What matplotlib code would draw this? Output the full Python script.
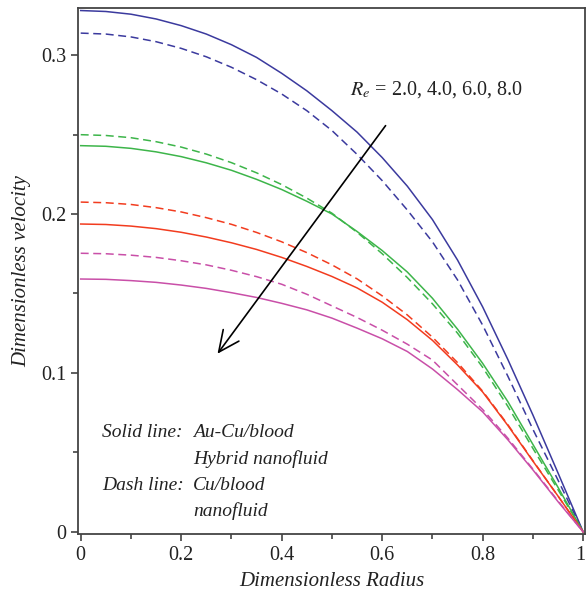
import numpy as np
import matplotlib
matplotlib.use('Agg')
import matplotlib.pyplot as plt
import matplotlib.transforms as mtransforms

radius = [0, 0.05, 0.1, 0.15, 0.2, 0.25, 0.3, 0.35, 0.4, 0.45, 0.5, 0.55, 0.6,
          0.65, 0.7, 0.75, 0.8, 0.85, 0.9, 0.95, 1.0]

# solid lines: Au-Cu/blood hybrid nanofluid
blue_solid = [0.328, 0.3274, 0.3257, 0.3227, 0.3185, 0.3132, 0.3065, 0.2985, 0.2885, 0.2775, 0.265,
              0.2515, 0.2355, 0.2175, 0.1965, 0.171, 0.1415, 0.1085, 0.0735, 0.037, 0]
green_solid = [0.243, 0.2426, 0.2413, 0.2391, 0.2361, 0.2322, 0.2275, 0.2218, 0.2154, 0.208, 0.2,
               0.189, 0.177, 0.1635, 0.147, 0.1275, 0.106, 0.082, 0.055, 0.028, 0]
red_solid = [0.1937, 0.1934, 0.1924, 0.1908, 0.1885, 0.1855, 0.1819, 0.1777, 0.1727, 0.167, 0.1607,
             0.1535, 0.1445, 0.1335, 0.1205, 0.105, 0.088, 0.067, 0.0445, 0.0225, 0]
magenta_solid = [0.1591, 0.1589, 0.1581, 0.157, 0.1553, 0.1532, 0.1505, 0.1475, 0.1438, 0.1397, 0.1345,
                 0.1282, 0.1215, 0.1135, 0.1025, 0.0895, 0.0755, 0.058, 0.039, 0.019, 0]

# dashed lines: Cu/blood nanofluid
blue_dash = [0.3138, 0.3132, 0.3114, 0.3084, 0.3042, 0.2989, 0.2923, 0.2845, 0.2755, 0.265, 0.2525,
             0.2375, 0.221, 0.2025, 0.1825, 0.1585, 0.130, 0.098, 0.0645, 0.0325, 0]
green_dash = [0.2499, 0.2494, 0.248, 0.2455, 0.2421, 0.2377, 0.2323, 0.2259, 0.2185, 0.21, 0.2005,
              0.1885, 0.175, 0.160, 0.1435, 0.125, 0.1035, 0.079, 0.0525, 0.0265, 0]
red_dash = [0.2075, 0.2071, 0.206, 0.204, 0.2013, 0.1977, 0.1935, 0.1884, 0.1825, 0.1757, 0.168,
            0.1592, 0.1485, 0.1365, 0.1225, 0.1065, 0.0885, 0.0675, 0.0448, 0.0225, 0]
magenta_dash = [0.1753, 0.175, 0.1741, 0.1727, 0.1706, 0.168, 0.1646, 0.1606, 0.1558, 0.1495, 0.1422,
                0.1349, 0.1269, 0.1181, 0.1081, 0.0925, 0.077, 0.059, 0.0395, 0.0195, 0]

colors = ['#3b3a9e', '#3db54a', '#f23c1f', '#c94fa8']

plt.rcParams['font.family'] = ['Liberation Serif', 'DejaVu Serif']
plt.rcParams['mathtext.fontset'] = 'stix'

fig = plt.figure(figsize=(5.86, 6.01), dpi=100)
ax = fig.add_axes([0.1331, 0.1115, 0.8652, 0.8752])

solids = [blue_solid, green_solid, red_solid, magenta_solid]
dashes = [blue_dash, green_dash, red_dash, magenta_dash]
for c, s, d in zip(colors, solids, dashes):
    ax.plot(radius, d, color=c, lw=1.1, dashes=(5.2, 3))
    ax.plot(radius, s, color=c, lw=1.1)

ax.set_xlim(-0.0054, 1.0036)
ax.set_ylim(-0.0013, 0.3296)
ax.set_xticks([0, 0.2, 0.4, 0.6, 0.8, 1.0])
ax.set_xticklabels(['0', '0.2', '0.4', '0.6', '0.8', '1'])
ax.set_xticks(np.arange(0.1, 1.0, 0.2), minor=True)
ax.set_yticks([0, 0.1, 0.2, 0.3])
ax.set_yticklabels(['0', '0.1', '0.2', '0.3'])
ax.set_yticks([0.05, 0.15, 0.25], minor=True)
ax.tick_params(which='major', direction='out', length=5, width=1.1, colors='#333333', labelsize=14.5, labelcolor='#222222')
ax.tick_params(which='minor', direction='out', length=3.5, width=1.1, colors='#333333')
for sp in ax.spines.values():
    sp.set_linewidth(1.3)
    sp.set_color('#444444')

# keep the last x label inside the figure
last = ax.get_xticklabels()[-1]
last.set_transform(last.get_transform() + mtransforms.ScaledTranslation(-3 / 100, 0, fig.dpi_scale_trans))

ax.set_xlabel('Dimensionless Radius', fontsize=15, style='italic', color='#222222', labelpad=5)
ax.set_ylabel('Dimensionless velocity', fontsize=15, style='italic', color='#222222', labelpad=7)

ax.text(0.536, 0.278, r'$R_e$ = 2.0, 4.0, 6.0, 8.0', fontsize=14.5, va='center', ha='left', color='#222222')
ax.annotate('', xy=(0.269, 0.1107), xytext=(0.610, 0.257),
            arrowprops=dict(arrowstyle='->,head_length=1.5,head_width=0.7', color='black', lw=1.2))

tx = dict(fontsize=14, style='italic', va='center', ha='left', color='#222222')
ax.text(0.0424, 0.0623, 'Solid line:', **tx)
ax.text(0.2235, 0.0623, 'Au-Cu/blood', **tx)
ax.text(0.2235, 0.0459, 'Hybrid nanofluid', **tx)
ax.text(0.0424, 0.0289, 'Dash line:', **tx)
ax.text(0.2235, 0.0289, 'Cu/blood', **tx)
ax.text(0.2235, 0.0132, 'nanofluid', **tx)

fig.savefig('out.png', dpi=100)
